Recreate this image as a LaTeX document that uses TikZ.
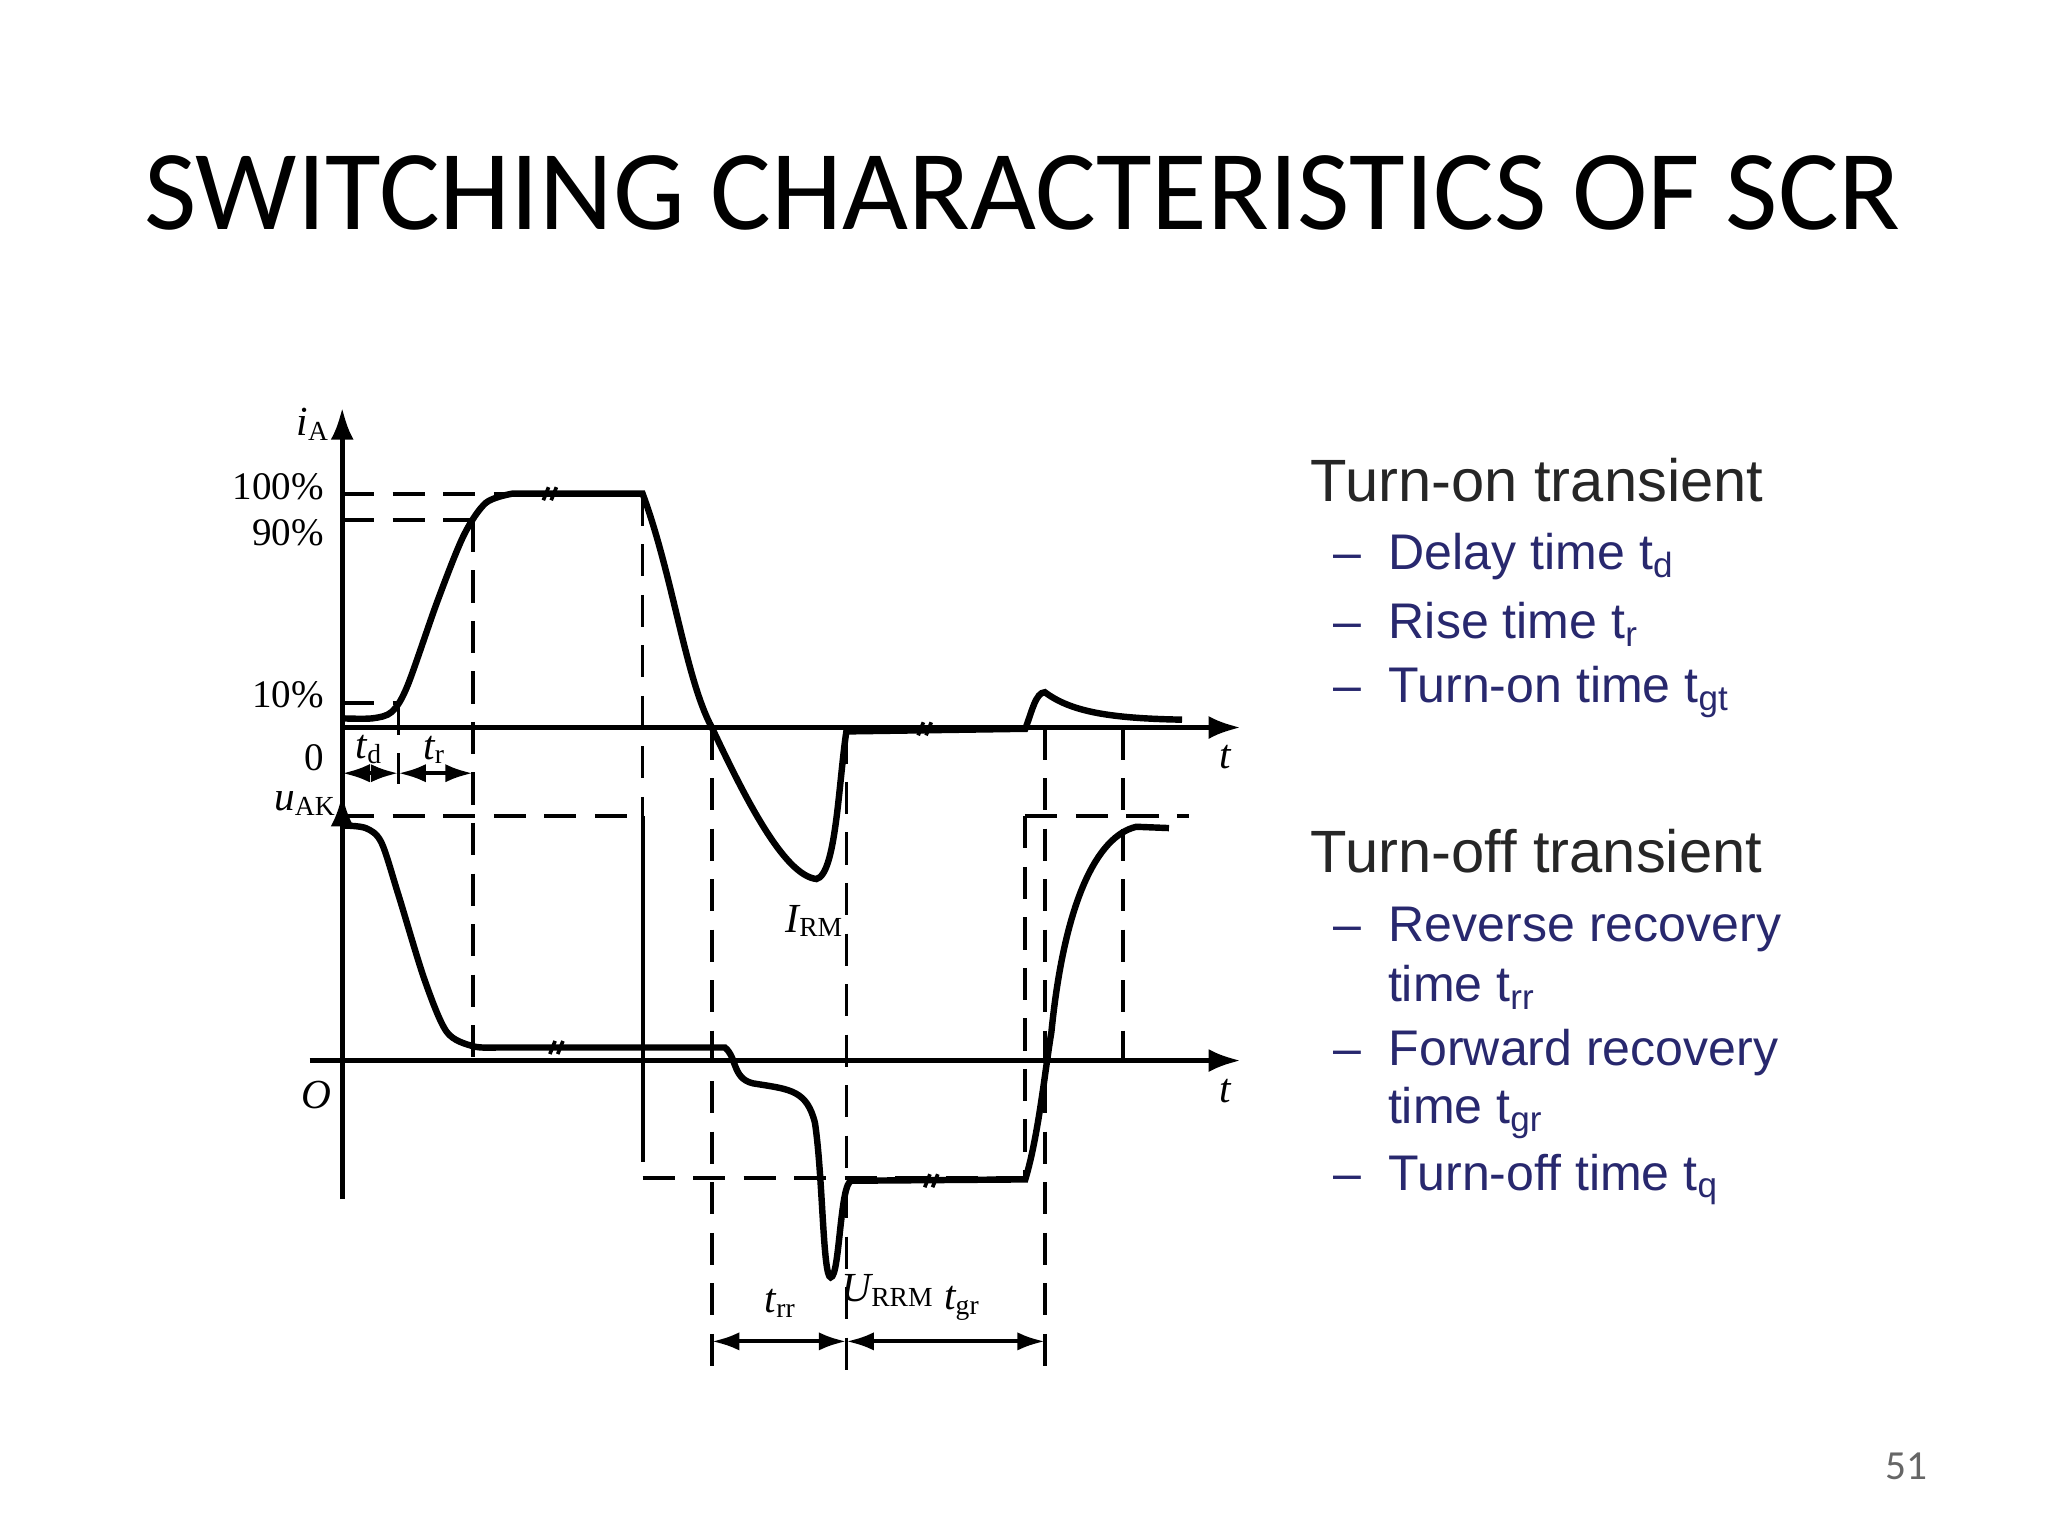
\documentclass[tikz,border=0pt]{standalone}
\usepackage{fontspec}
\setmainfont{Liberation Serif}
\newfontfamily\calfnt{Carlito}
\newfontfamily\arfnt{Liberation Sans}
\usetikzlibrary{arrows.meta}
\definecolor{navy}{RGB}{40,40,110}
\tikzset{ax/.style={line width=1.1pt,-{Latex[length=7pt,width=5pt]}},
curve/.style={line width=1.4pt},
dsh/.style={dash pattern=on 7pt off 4pt,line width=0.8pt},
dim/.style={line width=0.9pt,{Latex[length=6pt,width=4pt]}-{Latex[length=6pt,width=4pt]}},
lab/.style={font=\itshape\fontsize{9}{10}\selectfont,inner sep=1pt},
pct/.style={font=\fontsize{8.5}{10}\selectfont,anchor=east,inner sep=1pt},
head/.style={font=\arfnt\fontsize{13}{16}\selectfont,anchor=west,text=black!85,inner sep=0pt},
item/.style={font=\arfnt\fontsize{10.9}{14}\selectfont,anchor=west,text=navy,inner sep=0pt}}
\newcommand{\brk}[2]{\draw[line width=0.8pt] (#1-4,#2+5)--(#1,#2-5) (#1+2,#2+5)--(#1+6,#2-5);}
\begin{document}
\begin{tikzpicture}[x=0.01cm,y=-0.01cm]
\useasboundingbox (0,0) rectangle (1568,1176);
\node[font=\calfnt\fontsize{24.8}{30}\selectfont] (title) at (783,148) {SWITCHING CHARACTERISTICS OF SCR};
\node[font=\calfnt\fontsize{9}{10}\selectfont,text=black!60] (pg) at (1460,1123) {51};
% axes
\coordinate (o1) at (262,918); \coordinate (top) at (262,312);
\draw[ax] (o1)--(top);
\coordinate (u0) at (262,640); \coordinate (utop) at (262,608);
\draw[ax] (u0)--(utop);
\coordinate (a1) at (262,557); \coordinate (a2) at (950,557);
\draw[ax] (a1)--(a2);
\coordinate (b1) at (237,812); \coordinate (b2) at (950,812);
\draw[ax] (b1)--(b2);
% labels
\node[lab] (iA) at (240,325) {i\textsubscript{\upshape A}};
\node[pct] (p100) at (252,373) {100\%};
\node[pct] (p90) at (252,408) {90\%};
\node[pct] (p10) at (252,532) {10\%};
\node[pct] (z) at (252,580) {0};
\node[lab] (uAK) at (234,615) {u\textsubscript{\upshape AK}};
\node[lab] (O) at (242,838) {O};
\node[lab] (t1) at (938,580) {t};
\node[lab] (t2) at (938,835) {t};
\node[lab] (IRM) at (624,705) {I\textsubscript{\upshape RM}};
\node[lab] (URRM) at (680,988) {U\textsubscript{\upshape RRM}};
\node[lab] (td) at (283,574) {t\textsubscript{\upshape d}};
\node[lab] (tr) at (333,574) {t\textsubscript{\upshape r}};
\node[lab] (trr) at (598,998) {t\textsubscript{\upshape rr}};
\node[lab] (tgr) at (737,998) {t\textsubscript{\upshape gr}};
% dashed references
\draw[dsh] (262,378)--(400,378);
\draw[dsh] (262,398)--(362,398);
\draw[dsh] (262,538)--(305,538);
\draw[dsh] (305,538)--(305,600);
\draw[dsh] (362,398)--(362,812);
\draw[dsh] (492,378)--(492,625);
\draw[dsh] (545,557)--(545,1050);
\draw[dsh] (648,560)--(648,1050);
\draw[dsh] (785,625)--(785,900);
\draw[dsh] (800,557)--(800,1050);
\draw[dsh] (860,557)--(860,812);
\draw[dsh] (262,625)--(492,625);
\draw[line width=0.9pt] (492,625)--(492,890);
\draw[dsh] (492,902)--(785,902);
\draw[dsh] (785,625)--(910,625);
% dimension arrows
\draw[dim] (262,592)--(305,592);
\draw[dim] (305,592)--(362,592);
\draw[dim] (545,1027)--(648,1027);
\draw[dim] (648,1027)--(800,1027);
% i_A curve
\draw[curve] plot[smooth,tension=0.5] coordinates {(262,550)(285,550)(300,545)(312,525)(335,460)(355,410)(372,385)(392,378)}
 -- (492,378) .. controls (515,440) and (525,520) .. (545,557)
 .. controls (570,610) and (600,670) .. (625,673) .. controls (640,670) and (642,600) .. (648,560) -- (785,558)
 .. controls (790,545) and (793,530) .. (800,530) .. controls (820,545) and (850,550) .. (905,551);
\brk{420}{378}\brk{707}{558}
% u_AK curve
\draw[curve] plot[smooth,tension=0.5] coordinates {(262,632)(280,634)(292,645)(305,685)(325,750)(342,790)(362,801)(380,802)}
 -- (555,802) .. controls (565,810) and (560,828) .. (580,830) .. controls (605,834) and (618,835) .. (624,860)
 .. controls (630,900) and (630,978) .. (636,978) .. controls (643,978) and (643,905) .. (652,904) -- (785,903)
 .. controls (795,870) and (800,820) .. (805,790) .. controls (815,690) and (840,640) .. (870,633) -- (895,634);
\brk{425}{802}\brk{712}{904}
% legend
\node[head] (h1) at (1003,368) {Turn-on transient};
\node[item] (i1) at (1020,426) {–\ \ Delay time t\textsubscript{d}};
\node[item] (i2) at (1020,478) {–\ \ Rise time t\textsubscript{r}};
\node[item] (i3) at (1020,530) {–\ \ Turn-on time t\textsubscript{gt}};
\node[head] (h2) at (1003,652) {Turn-off transient};
\node[item] (i4) at (1020,712) {–\ \ Reverse recovery};
\node[item] (i4b) at (1062,756) {time t\textsubscript{rr}};
\node[item] (i5) at (1020,806) {–\ \ Forward recovery};
\node[item] (i5b) at (1062,852) {time t\textsubscript{gr}};
\node[item] (i6) at (1020,903) {–\ \ Turn-off time t\textsubscript{q}};
\end{tikzpicture}
\end{document}
